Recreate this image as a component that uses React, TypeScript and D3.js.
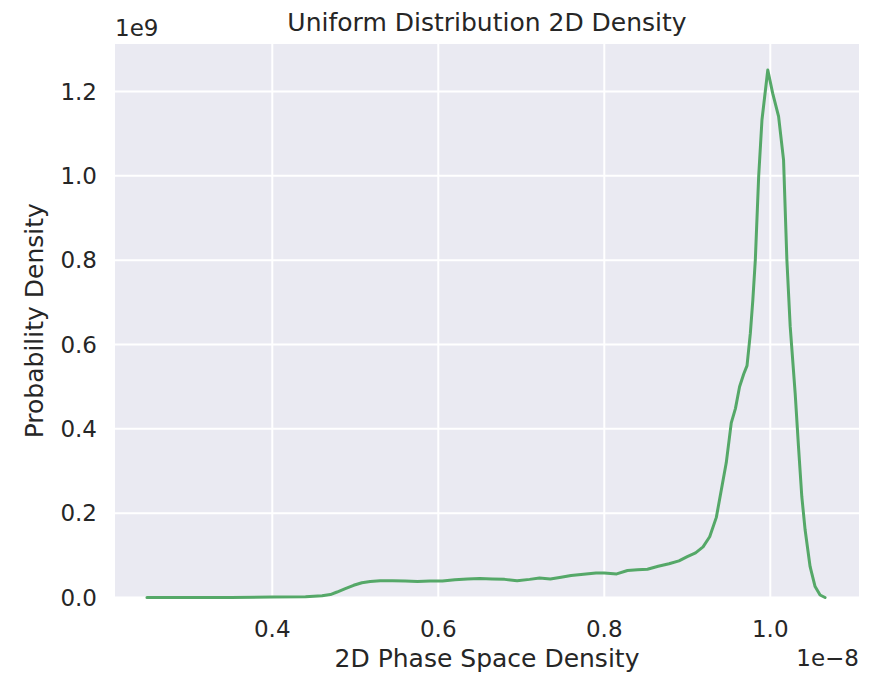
import React, { useEffect, useRef } from "react";
import * as d3 from "d3";

// x values are in units of 1e-8, y values in units of 1e9
const densityX = [
  0.249, 0.3, 0.35, 0.4, 0.44, 0.46, 0.47, 0.478, 0.488, 0.498, 0.508, 0.518,
  0.53, 0.545, 0.56, 0.575, 0.59, 0.605, 0.62, 0.635, 0.65, 0.665, 0.68, 0.695,
  0.71, 0.722, 0.735, 0.748, 0.76, 0.775, 0.79, 0.8, 0.815, 0.828, 0.84, 0.852,
  0.865, 0.878, 0.89, 0.9, 0.91, 0.919, 0.927, 0.935, 0.941, 0.947, 0.953,
  0.958, 0.963, 0.968, 0.972, 0.976, 0.979, 0.982, 0.986, 0.99, 0.997, 1.003,
  1.01, 1.016, 1.02, 1.024, 1.03, 1.034, 1.038, 1.042, 1.048, 1.054, 1.06,
  1.066,
];
const densityY = [
  0.0, 0.0, 0.0, 0.001, 0.002, 0.004, 0.007, 0.013, 0.021, 0.029, 0.035, 0.038,
  0.04, 0.04, 0.039, 0.038, 0.039, 0.039, 0.042, 0.044, 0.045, 0.044, 0.043,
  0.04, 0.043, 0.046, 0.044, 0.048, 0.052, 0.055, 0.058, 0.058, 0.056, 0.064,
  0.066, 0.067, 0.074, 0.08, 0.087, 0.097, 0.106, 0.12, 0.144, 0.19, 0.255,
  0.32, 0.414, 0.448, 0.5, 0.53, 0.55, 0.627, 0.706, 0.801, 0.998, 1.133, 1.251,
  1.195, 1.141, 1.038, 0.801, 0.643, 0.484, 0.358, 0.239, 0.16, 0.073, 0.026,
  0.006, 0.0,
];

const xTicks = [0.4, 0.6, 0.8, 1.0];
const yTicks = [0.0, 0.2, 0.4, 0.6, 0.8, 1.0, 1.2];

const DensityChart = () => {
  const svgRef = useRef<SVGSVGElement | null>(null);

  useEffect(() => {
    const svg = d3.select(svgRef.current);
    svg.selectAll("*").remove();

    const width = 887;
    const height = 675;
    const left = 115;
    const right = 859;
    const top = 44;
    const bottom = 597.5;

    const font = "'DejaVu Sans', sans-serif";
    const textColor = "#262626";
    const lineColor = "#55A868";
    const bgColor = "#EAEAF2";

    svg.attr("width", width).attr("height", height);

    const x = d3.scaleLinear().domain([0.2105, 1.1069]).range([left, right]);
    const y = d3.scaleLinear().domain([0, 1.3127]).range([bottom, top]);

    // plot background
    svg
      .append("rect")
      .attr("x", left)
      .attr("y", top)
      .attr("width", right - left)
      .attr("height", bottom - top)
      .attr("fill", bgColor);

    // grid
    svg
      .append("g")
      .selectAll("line")
      .data(xTicks)
      .join("line")
      .attr("x1", (d) => x(d))
      .attr("x2", (d) => x(d))
      .attr("y1", top)
      .attr("y2", bottom)
      .attr("stroke", "white")
      .attr("stroke-width", 2);

    svg
      .append("g")
      .selectAll("line")
      .data(yTicks)
      .join("line")
      .attr("x1", left)
      .attr("x2", right)
      .attr("y1", (d) => y(d))
      .attr("y2", (d) => y(d))
      .attr("stroke", "white")
      .attr("stroke-width", 2);

    // density curve
    const points: [number, number][] = densityX.map((d, i) => [d, densityY[i]]);
    const line = d3
      .line<[number, number]>()
      .x((d) => x(d[0]))
      .y((d) => y(d[1]));

    svg
      .append("path")
      .datum(points)
      .attr("d", line)
      .attr("fill", "none")
      .attr("stroke", lineColor)
      .attr("stroke-width", 3)
      .attr("stroke-linejoin", "round")
      .attr("stroke-linecap", "round");

    // tick labels
    svg
      .append("g")
      .selectAll("text")
      .data(xTicks)
      .join("text")
      .attr("x", (d) => x(d))
      .attr("y", 637)
      .attr("text-anchor", "middle")
      .attr("font-family", font)
      .attr("font-size", "23px")
      .attr("fill", textColor)
      .text((d) => d.toFixed(1));

    svg
      .append("g")
      .selectAll("text")
      .data(yTicks)
      .join("text")
      .attr("x", 97)
      .attr("y", (d) => y(d))
      .attr("dy", "0.36em")
      .attr("text-anchor", "end")
      .attr("font-family", font)
      .attr("font-size", "23px")
      .attr("fill", textColor)
      .text((d) => d.toFixed(1));

    // offset texts
    svg
      .append("text")
      .attr("x", left)
      .attr("y", 36)
      .attr("font-family", font)
      .attr("font-size", "23px")
      .attr("fill", textColor)
      .text("1e9");

    svg
      .append("text")
      .attr("x", right)
      .attr("y", 666)
      .attr("text-anchor", "end")
      .attr("font-family", font)
      .attr("font-size", "23px")
      .attr("fill", textColor)
      .text("1e\u22128");

    // title and axis labels
    svg
      .append("text")
      .attr("x", (left + right) / 2)
      .attr("y", 31)
      .attr("text-anchor", "middle")
      .attr("font-family", font)
      .attr("font-size", "25px")
      .attr("fill", textColor)
      .text("Uniform Distribution 2D Density");

    svg
      .append("text")
      .attr("x", (left + right) / 2)
      .attr("y", 667)
      .attr("text-anchor", "middle")
      .attr("font-family", font)
      .attr("font-size", "25px")
      .attr("fill", textColor)
      .text("2D Phase Space Density");

    svg
      .append("text")
      .attr("transform", `translate(43, ${(top + bottom) / 2}) rotate(-90)`)
      .attr("text-anchor", "middle")
      .attr("font-family", font)
      .attr("font-size", "25px")
      .attr("fill", textColor)
      .text("Probability Density");
  }, []);

  return (
    <svg
      ref={svgRef}
      style={{ position: "absolute", left: 0, top: 0, background: "white" }}
    ></svg>
  );
};

export default function App() {
  return <DensityChart />;
}
